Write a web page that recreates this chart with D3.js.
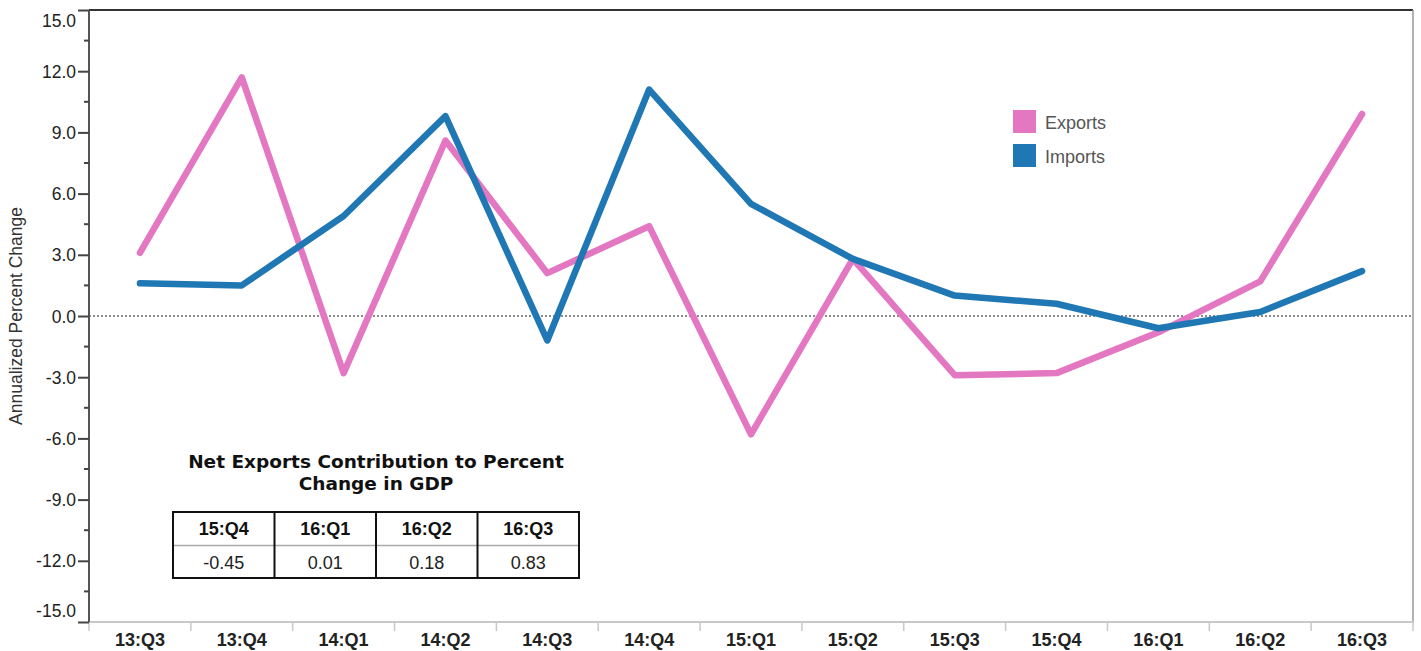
<!DOCTYPE html>
<html>
<head>
<meta charset="utf-8">
<script src="https://cdn.jsdelivr.net/npm/d3@7"></script>
<style>
  html, body { margin: 0; padding: 0; background: #fff; }
  svg { display: block; }
</style>
</head>
<body>
<svg id="chart" width="1421" height="651"></svg>
<script>
const quarters = ["13:Q3","13:Q4","14:Q1","14:Q2","14:Q3","14:Q4","15:Q1","15:Q2","15:Q3","15:Q4","16:Q1","16:Q2","16:Q3"];
const exportsValues = [3.1, 11.7, -2.8, 8.6, 2.1, 4.4, -5.8, 2.8, -2.9, -2.8, -0.8, 1.7, 9.9];
const importsValues = [1.6, 1.5, 4.9, 9.8, -1.2, 11.1, 5.5, 2.8, 1.0, 0.6, -0.6, 0.2, 2.2];
const seriesNames = ["Exports", "Imports"];
const seriesColors = ["#e377c2", "#1f77b4"];
const yTicks = [15, 12, 9, 6, 3, 0, -3, -6, -9, -12, -15];
const yMinorTicks = [13.5, 10.5, 7.5, 4.5, 1.5, -1.5, -4.5, -7.5, -10.5, -13.5];
const yLabel = "Annualized Percent Change";
const tableTitle = ["Net Exports Contribution to Percent", "Change in GDP"];
const tableQuarters = ["15:Q4", "16:Q1", "16:Q2", "16:Q3"];
const tableValues = ["-0.45", "0.01", "0.18", "0.83"];

const svg = d3.select("#chart");
const m = {left: 89, top: 10, right: 1413, bottom: 622};

const x = d3.scaleBand().domain(quarters).range([m.left, m.right]).paddingInner(0).paddingOuter(0);
const y = d3.scaleLinear().domain([-15, 15]).range([m.bottom, m.top]);
const cx = d => x(d) + x.bandwidth() / 2;

// borders
svg.append("line").attr("x1", m.left).attr("x2", m.right).attr("y1", m.top).attr("y2", m.top)
  .attr("stroke", "#333").attr("stroke-width", 2);
svg.append("line").attr("x1", m.right).attr("x2", m.right).attr("y1", m.top).attr("y2", m.bottom)
  .attr("stroke", "#999").attr("stroke-width", 1.5);
svg.append("line").attr("x1", m.left).attr("x2", m.right).attr("y1", m.bottom).attr("y2", m.bottom)
  .attr("stroke", "#c8c8c8").attr("stroke-width", 2);

// x boundary ticks
const bounds = quarters.map(q => x(q)).concat([m.right]);
svg.append("g").selectAll("line").data(bounds).join("line")
  .attr("x1", d => d).attr("x2", d => d).attr("y1", m.bottom).attr("y2", m.bottom + 9)
  .attr("stroke", "#c8c8c8").attr("stroke-width", 1.5);

// x axis labels
const xAxis = d3.axisBottom(x).tickSize(0).tickPadding(0);
const gx = svg.append("g").attr("transform", `translate(0,${m.bottom})`).call(xAxis);
gx.select(".domain").remove();
gx.selectAll("text").attr("y", 24).attr("dy", 0)
  .style("font-family", "Liberation Sans, Arial, sans-serif").style("font-size", "18px")
  .style("font-weight", "bold").attr("fill", "#222");

// y axis
const yAxis = d3.axisLeft(y).tickValues(yTicks).tickSize(11).tickPadding(2).tickFormat(d => d.toFixed(1));
const gy = svg.append("g").attr("transform", `translate(${m.left},0)`).call(yAxis);
gy.select(".domain").attr("stroke", "#555").attr("stroke-width", 2).attr("d", `M0,${m.top}V${m.bottom}`);
gy.selectAll(".tick line").attr("stroke", "#444").attr("stroke-width", 2);
gy.selectAll(".tick text")
  .style("font-family", "Liberation Sans, Arial, sans-serif").style("font-size", "17.5px").attr("fill", "#222")
  .attr("dy", d => d === 15 ? "0.95em" : (d === -15 ? "-0.3em" : "0.35em"));
svg.append("g").selectAll("line").data(yMinorTicks).join("line")
  .attr("x1", m.left - 5).attr("x2", m.left).attr("y1", d => y(d)).attr("y2", d => y(d))
  .attr("stroke", "#444").attr("stroke-width", 2);

// zero line
svg.append("line").attr("x1", m.left).attr("x2", m.right).attr("y1", y(0)).attr("y2", y(0))
  .attr("stroke", "#666").attr("stroke-width", 1.5).attr("stroke-dasharray", "2,2");

// y label
svg.append("text").attr("transform", `translate(22,${(m.top + m.bottom) / 2}) rotate(-90)`)
  .attr("text-anchor", "middle").style("font-family", "Liberation Sans, Arial, sans-serif")
  .style("font-size", "17.5px").attr("fill", "#333").text(yLabel);

// lines
const line = d3.line().x((d, i) => cx(quarters[i])).y(d => y(d));
[exportsValues, importsValues].forEach((vals, k) => {
  svg.append("path").datum(vals).attr("d", line).attr("fill", "none")
    .attr("stroke", seriesColors[k]).attr("stroke-width", 6.5)
    .attr("stroke-linejoin", "round").attr("stroke-linecap", "round");
});

// legend
const lg = svg.append("g").attr("transform", "translate(1013,110)");
seriesNames.forEach((n, i) => {
  lg.append("rect").attr("x", 0).attr("y", i * 34).attr("width", 23).attr("height", 23).attr("fill", seriesColors[i]);
  lg.append("text").attr("x", 32).attr("y", i * 34 + 18.5)
    .style("font-family", "Liberation Sans, Arial, sans-serif").style("font-size", "18px")
    .attr("fill", "#555").text(n);
});

// table
const tx = d3.scaleBand().domain(tableQuarters).range([173, 579]);
const tg = svg.append("g");
tableTitle.forEach((t, i) => {
  tg.append("text").attr("x", 376).attr("y", 468 + i * 22).attr("text-anchor", "middle")
    .style("font-family", "DejaVu Sans, sans-serif").style("font-size", "18.5px").style("font-weight", "bold")
    .attr("fill", "#111").text(t);
});
tg.append("line").attr("x1", 173).attr("x2", 579).attr("y1", 545.5).attr("y2", 545.5)
  .attr("stroke", "#aaa").attr("stroke-width", 1.5);
tg.selectAll(".vline").data(tableQuarters.slice(1)).join("line")
  .attr("x1", d => tx(d)).attr("x2", d => tx(d)).attr("y1", 512).attr("y2", 578)
  .attr("stroke", "#111").attr("stroke-width", 2);
tg.append("rect").attr("x", 173).attr("y", 512).attr("width", 406).attr("height", 66)
  .attr("fill", "none").attr("stroke", "#111").attr("stroke-width", 2);
tg.selectAll(".hdr").data(tableQuarters).join("text")
  .attr("x", d => tx(d) + tx.bandwidth() / 2).attr("y", 534.5).attr("text-anchor", "middle")
  .style("font-family", "Liberation Sans, Arial, sans-serif").style("font-size", "18px").style("font-weight", "bold")
  .attr("fill", "#111").text(d => d);
tg.selectAll(".val").data(tableValues).join("text")
  .attr("x", (d, i) => tx(tableQuarters[i]) + tx.bandwidth() / 2).attr("y", 568.5).attr("text-anchor", "middle")
  .style("font-family", "Liberation Sans, Arial, sans-serif").style("font-size", "18px")
  .attr("fill", "#222").text(d => d);
</script>
</body>
</html>
